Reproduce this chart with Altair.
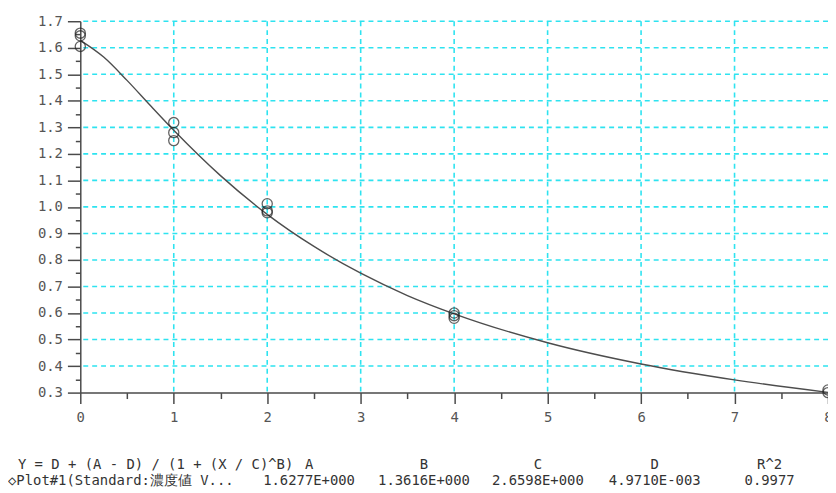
import altair as alt
import pandas as pd

# ---- data ----
std_x = [0, 0, 0, 1, 1, 1, 2, 2, 2, 4, 4, 4, 8, 8]
std_y = [1.655, 1.645, 1.605, 1.318, 1.280, 1.250, 1.012, 0.985, 0.978, 0.600, 0.590, 0.580, 0.310, 0.300]

curve_x = [0, 0.25, 0.5, 0.75, 1, 1.5, 2, 2.5, 3, 3.5, 4, 5, 6, 7, 8]
curve_y = [1.628, 1.565, 1.477, 1.382, 1.289, 1.118, 0.972, 0.851, 0.750, 0.666, 0.597, 0.488, 0.408, 0.348, 0.301]

x_ticks = [0, 1, 2, 3, 4, 5, 6, 7, 8]
x_minor = [0.5, 1.5, 2.5, 3.5, 4.5, 5.5, 6.5, 7.5]
x_grid = [1, 2, 3, 4, 5, 6, 7]
y_ticks = [0.3, 0.4, 0.5, 0.6, 0.7, 0.8, 0.9, 1.0, 1.1, 1.2, 1.3, 1.4, 1.5, 1.6, 1.7]
y_minor = [0.35, 0.45, 0.55, 0.65, 0.75, 0.85, 0.95, 1.05, 1.15, 1.25, 1.35, 1.45, 1.55, 1.65]
y_grid = [0.4, 0.5, 0.6, 0.7, 0.8, 0.9, 1.0, 1.1, 1.2, 1.3, 1.4, 1.5, 1.6, 1.7]

equation = "Y = D + (A - D) / (1 + (X / C)^B)"
series_label = "◇Plot#1(Standard:濃度値 V..."
param_names = ["A", "B", "C", "D", "R^2"]
param_values = ["1.6277E+000", "1.3616E+000", "2.6598E+000", "4.9710E-003", "0.9977"]

# ---- layout / style ----
W, H = 755, 375
FONT = "DejaVu Sans Mono"
CYAN = "#2ee3f0"
AX = "#4a4a4a"
col_px = [231, 347, 462, 580, 696]
line1_y, line2_y = H + 77, H + 93

xscale = alt.Scale(domain=[0, 8], nice=False, zero=False)
yscale = alt.Scale(domain=[0.3, 1.7], nice=False, zero=False)

x_main = alt.Axis(values=x_ticks, format="d", orient="bottom", title=None, grid=False,
                  tickSize=11, tickWidth=1.5, tickColor=AX, domainColor=AX, domainWidth=1.5,
                  labelFont=FONT, labelFontSize=14, labelColor="#555", labelPadding=7,
                  labelFlush=False, labelOverlap=False)
y_main = alt.Axis(values=y_ticks, format=".1f", orient="left", title=None, grid=False,
                  tickSize=13, tickWidth=1.5, tickColor=AX, domainColor=AX, domainWidth=1.5,
                  labelFont=FONT, labelFontSize=14, labelColor="#555", labelPadding=5,
                  labelFlush=False, labelOverlap=False)
x_min_ax = alt.Axis(values=x_minor, orient="bottom", title=None, grid=False, labels=False,
                    domain=False, tickSize=6, tickWidth=1.5, tickColor=AX)
y_min_ax = alt.Axis(values=y_minor, orient="left", title=None, grid=False, labels=False,
                    domain=False, tickSize=5, tickWidth=1.5, tickColor=AX)

grid_h = alt.Chart(pd.DataFrame({"v": y_grid})).mark_rule(
    color=CYAN, strokeDash=[5, 4], strokeWidth=1.6
).encode(y=alt.Y("v:Q", scale=yscale, axis=y_main))

grid_v = alt.Chart(pd.DataFrame({"v": x_grid})).mark_rule(
    color=CYAN, strokeDash=[5, 4], strokeWidth=1.6
).encode(x=alt.X("v:Q", scale=xscale, axis=x_main))

curve = alt.Chart(pd.DataFrame({"x": curve_x, "y": curve_y})).mark_line(
    color="#4d4d4d", strokeWidth=1.4, interpolate="monotone"
).encode(
    x=alt.X("x:Q", scale=xscale, axis=x_min_ax),
    y=alt.Y("y:Q", scale=yscale, axis=y_min_ax),
)

points = alt.Chart(pd.DataFrame({"x": std_x, "y": std_y})).mark_point(
    shape="circle", filled=False, color="#222", strokeWidth=1.3, size=105
).encode(
    x=alt.X("x:Q", scale=xscale, axis=None),
    y=alt.Y("y:Q", scale=yscale, axis=None),
)

def txt(s, x, y, align="left"):
    return alt.Chart(pd.DataFrame({"t": [s]})).mark_text(
        font=FONT, fontSize=14, color="#333", align=align, baseline="alphabetic"
    ).encode(text="t:N", x=alt.value(x), y=alt.value(y))

footer = [txt(equation, -63, line1_y), txt(series_label, -73, line2_y)]
for name, val, px in zip(param_names, param_values, col_px):
    footer.append(txt(name, px, line1_y, "center"))
    footer.append(txt(val, px, line2_y, "center"))

chart = alt.layer(grid_h, grid_v, curve, points, *footer).resolve_axis(
    x="independent", y="independent"
).properties(
    width=W, height=H, autosize=alt.AutoSizeParams(type="none"),
    padding={"left": 73, "top": 11, "right": 0, "bottom": 97},
).configure_view(stroke=None)

chart.save("out.html", embed_options={"renderer": "svg", "actions": False})
